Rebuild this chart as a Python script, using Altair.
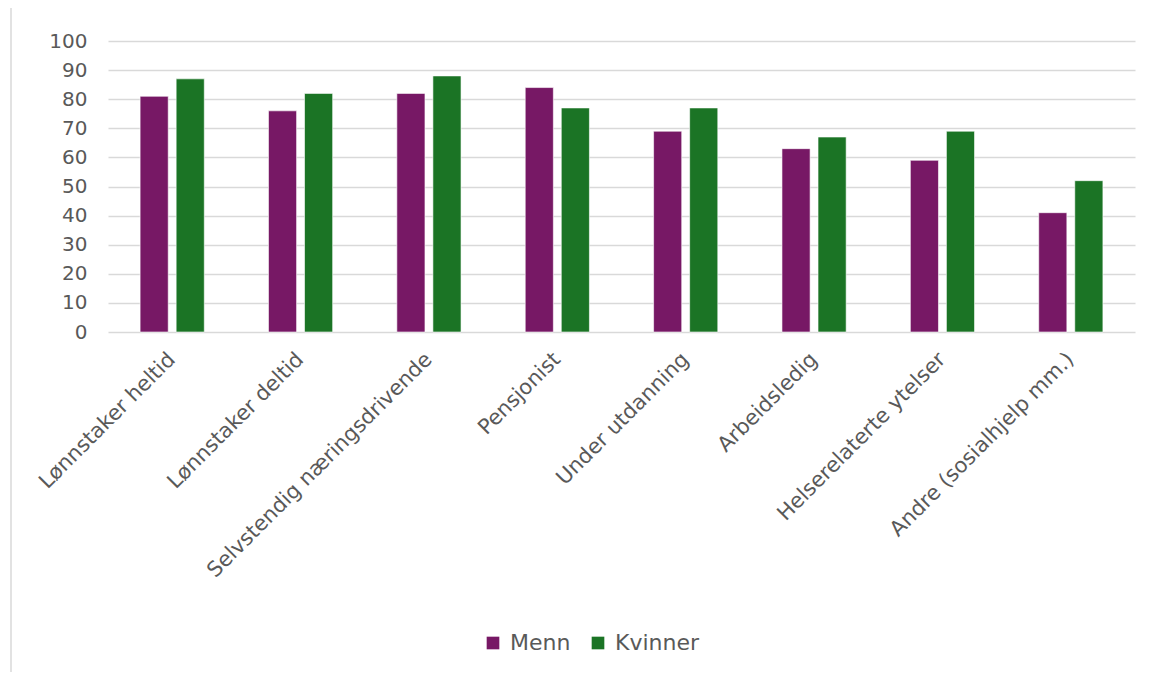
import altair as alt
import pandas as pd

categories = [
    "Lønnstaker heltid",
    "Lønnstaker deltid",
    "Selvstendig næringsdrivende",
    "Pensjonist",
    "Under utdanning",
    "Arbeidsledig",
    "Helserelaterte ytelser",
    "Andre (sosialhjelp mm.)",
]
menn = [81, 76, 82, 84, 69, 63, 59, 41]
kvinner = [87, 82, 88, 77, 77, 67, 69, 52]
series = ["Menn", "Kvinner"]
colors = ["#771865", "#1B7425"]

rows = []
for c, m, k in zip(categories, menn, kvinner):
    rows.append({"kategori": c, "kjonn": "Menn", "verdi": m})
    rows.append({"kategori": c, "kjonn": "Kvinner", "verdi": k})
df = pd.DataFrame(rows)

FONT = "DejaVu Sans"
W, H = 1027, 291

bars = alt.Chart(df).mark_bar(stroke="white", strokeWidth=0.6).encode(
    x=alt.X(
        "kategori:N",
        sort=categories,
        title=None,
        scale=alt.Scale(paddingInner=0.5, paddingOuter=0.25),
        axis=alt.Axis(
            labelAngle=-45,
            labelAlign="right",
            labelBaseline="middle",
            labelFont=FONT,
            labelFontSize=21,
            labelColor="#595959",
            labelPadding=24,
            ticks=False,
            domain=False,
            grid=False,
            labelLimit=500,
        ),
    ),
    xOffset=alt.XOffset("kjonn:N", sort=series, scale=alt.Scale(paddingInner=0.22, paddingOuter=0)),
    y=alt.Y(
        "verdi:Q",
        title=None,
        scale=alt.Scale(domain=[0, 100]),
        axis=alt.Axis(
            values=list(range(0, 101, 10)),
            labelFont=FONT,
            labelFontSize=20,
            labelColor="#595959",
            labelPadding=21,
            ticks=False,
            domain=False,
            gridColor="#d9d9d9",
            gridWidth=1.5,
        ),
    ),
    color=alt.Color(
        "kjonn:N",
        sort=series,
        scale=alt.Scale(domain=series, range=colors),
        legend=alt.Legend(
            title=None,
            orient="none",
            direction="horizontal",
            legendX=374,
            legendY=591,
            symbolType="square",
            symbolSize=160,
            symbolStrokeWidth=0,
            labelFont=FONT,
            labelFontSize=22,
            labelColor="#595959",
            columnPadding=16,
            labelOffset=6,
        ),
    ),
)

border_df = pd.DataFrame({"x": [0]})
border = alt.Chart(border_df).mark_rule(color="#d9d9d9", strokeWidth=1.5).encode(
    x=alt.value(-97), y=alt.value(-41), y2=alt.value(632)
)

chart = (
    alt.layer(border, bars)
    .properties(
        width=W,
        height=H,
        background="white",
        autosize=alt.AutoSizeParams(type="none"),
        padding={"left": 100, "top": 33, "right": 9, "bottom": 340},
    )
    .configure_view(stroke=None, strokeWidth=0)
)

chart.save("out.html", embed_options={"renderer": "svg", "actions": False})
